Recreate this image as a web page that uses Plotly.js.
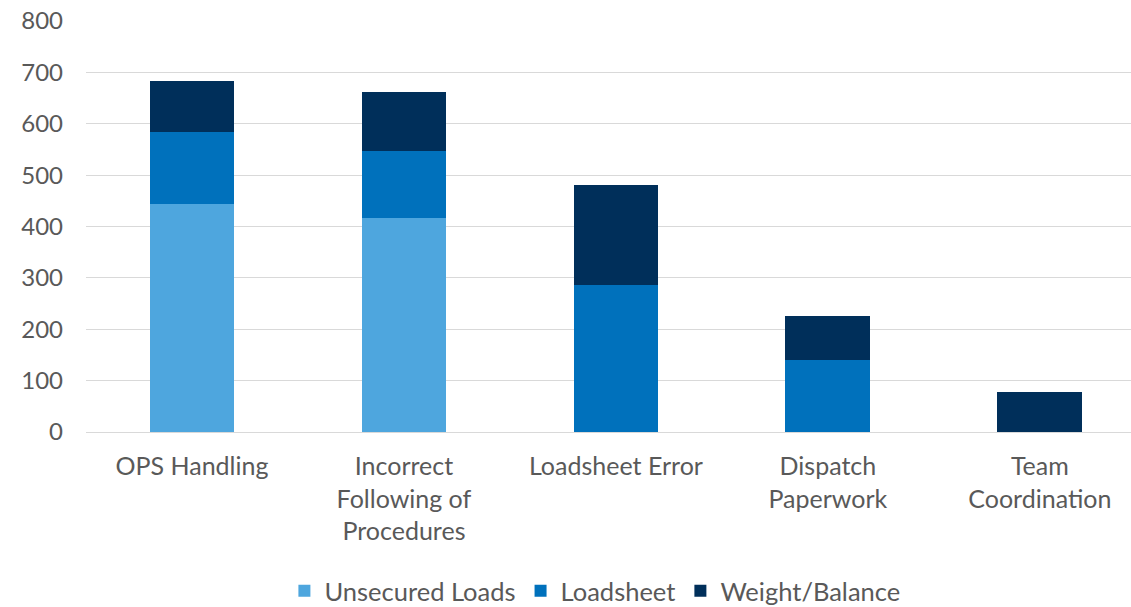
<!DOCTYPE html>
<html>
<head>
<meta charset="utf-8">
<script src="https://cdn.plot.ly/plotly-3.0.1.min.js"></script>
<style>html,body{margin:0;padding:0;background:#fff;}#chart{width:1131px;height:607px;}</style>
</head>
<body>
<div id="chart"></div>
<script>
const categories = ['OPS Handling', 'Incorrect<br>Following of<br>Procedures', 'Loadsheet Error', 'Dispatch<br>Paperwork', 'Team<br>Coordination'];
const unsecuredLoads = [444, 417, 0, 0, 0];
const loadsheet = [139, 130, 287, 141, 0];
const weightBalance = [100, 115, 193, 85, 77];
const yTicks = [0, 100, 200, 300, 400, 500, 600, 700, 800];

const font = {family: 'Lato, "Open Sans", sans-serif', size: 24, color: '#595959'};
const catFont = {family: 'Lato, "Open Sans", sans-serif', size: 25, color: '#595959'};
const legFont = {family: 'Lato, "Open Sans", sans-serif', size: 25.5, color: '#595959'};

const traces = [
  {name: 'Unsecured Loads', y: unsecuredLoads, color: '#4EA6DE'},
  {name: 'Loadsheet', y: loadsheet, color: '#0071BC'},
  {name: 'Weight/Balance', y: weightBalance, color: '#002F5A'}
].map(s => ({
  type: 'bar', name: s.name, x: categories, y: s.y,
  marker: {color: s.color, line: {width: 0}}, width: 0.4
}));

const layout = {
  width: 1131, height: 607,
  margin: {l: 86, r: 0, t: 21, b: 175},
  barmode: 'stack',
  paper_bgcolor: '#fff', plot_bgcolor: '#fff',
  font: font,
  showlegend: true,
  legend: {orientation: 'h', xref: 'container', yref: 'container', x: 0.526, xanchor: 'center', y: 0.026, yanchor: 'middle', font: legFont, traceorder: 'normal'},
  xaxis: {type: 'category', range: [-0.5, 4.43], showgrid: false, showline: false, zeroline: false, ticks: '', ticklabelstandoff: 17, tickfont: catFont, fixedrange: true},
  yaxis: {range: [0, 800], tickvals: yTicks, showgrid: true, gridcolor: '#D9D9D9', gridwidth: 1, zeroline: true, zerolinecolor: '#D9D9D9', zerolinewidth: 1, showline: false, ticks: '', ticklabelstandoff: 22, tickfont: font, fixedrange: true}
};

Plotly.newPlot('chart', traces, layout, {displayModeBar: false, staticPlot: true});
</script>
</body>
</html>
